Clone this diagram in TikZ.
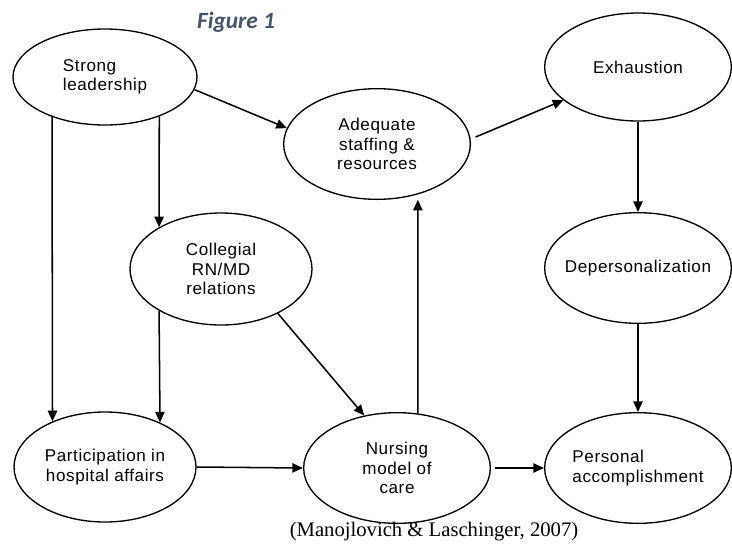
\documentclass[tikz,border=0pt]{standalone}
\usepackage{fontspec}
\setmainfont{Liberation Sans}[LetterSpace=3.5]
\newfontfamily\citefont{Liberation Serif}
\newfontfamily\figfont{Carlito}
\usetikzlibrary{shapes.geometric, arrows.meta}
\definecolor{figblue}{HTML}{44546A}

\begin{document}
\begin{tikzpicture}[x=0.75pt, y=-0.75pt, font=\fontsize{12.8}{14.5}\selectfont]
    % Node styles
    \tikzstyle{concept} = [ellipse, draw, line width=1pt, inner xsep=-20pt, inner ysep=0pt, minimum width=140pt, minimum height=83pt, align=center]
    \tikzstyle{flowarrow} = [-{Triangle[length=8pt, width=7pt]}, line width=1.15pt]
    \useasboundingbox (0,0) rectangle (732,544);

    % Title and source
    \node (fig) [anchor=base, font=\figfont\bfseries\itshape\fontsize{17.5}{21}\selectfont, text=figblue] at (236,28) {Figure 1};
    \node (cite) [anchor=base, font=\citefont\fontsize{15.5}{18}\selectfont] at (434,536) {(Manojlovich \& Laschinger, 2007)};

    % Nodes
    \node (strong) [concept, minimum width=138pt, minimum height=72pt, align=left] at (105,77) {\raisebox{8pt}{\begin{tabular}{@{}l@{}}Strong\\leadership\end{tabular}}};
    \node (adequate) [concept] at (377,144) {Adequate\\staffing \&\\resources};
    \node (exhaust) [concept, minimum height=81pt] at (638,67) {Exhaustion};
    \node (coll) [concept, minimum width=136.5pt, minimum height=84pt] at (221,269) {Collegial\\RN/MD\\relations};
    \node (depers) [concept] at (638,268) {Depersonalization};
    \node (part) [concept, minimum width=136.5pt, minimum height=82.5pt] at (105,467) {Participation in\\hospital affairs};
    \node (nursing) [concept] at (397,468) {Nursing\\model of\\care};
    \node (personal) [concept, align=left] at (638,468) {Personal\\accomplishment};

    % Arrows
    \draw[flowarrow] (strong.-143) -- (part.139);
    \draw[flowarrow] (strong.-36) -- (coll.146);
    \draw[flowarrow] (coll.-146) -- (part.39);
    \draw[flowarrow] (strong.-8) -- (adequate.170);
    \draw[flowarrow, shorten <=4pt] (adequate.3) -- (exhaust.204);
    \draw[flowarrow] (exhaust.south) -- (depers.north);
    \draw[flowarrow] (depers.south) -- (personal.north);
    \draw[flowarrow] (coll.-38) -- (nursing.122);
    \draw[flowarrow] (part.east) -- (nursing.west);
    \draw[flowarrow, shorten >=4pt] (nursing.69) -- (adequate.-51);
    \draw[flowarrow, shorten <=3pt] (nursing.east) -- (personal.west);
\end{tikzpicture}
\end{document}
